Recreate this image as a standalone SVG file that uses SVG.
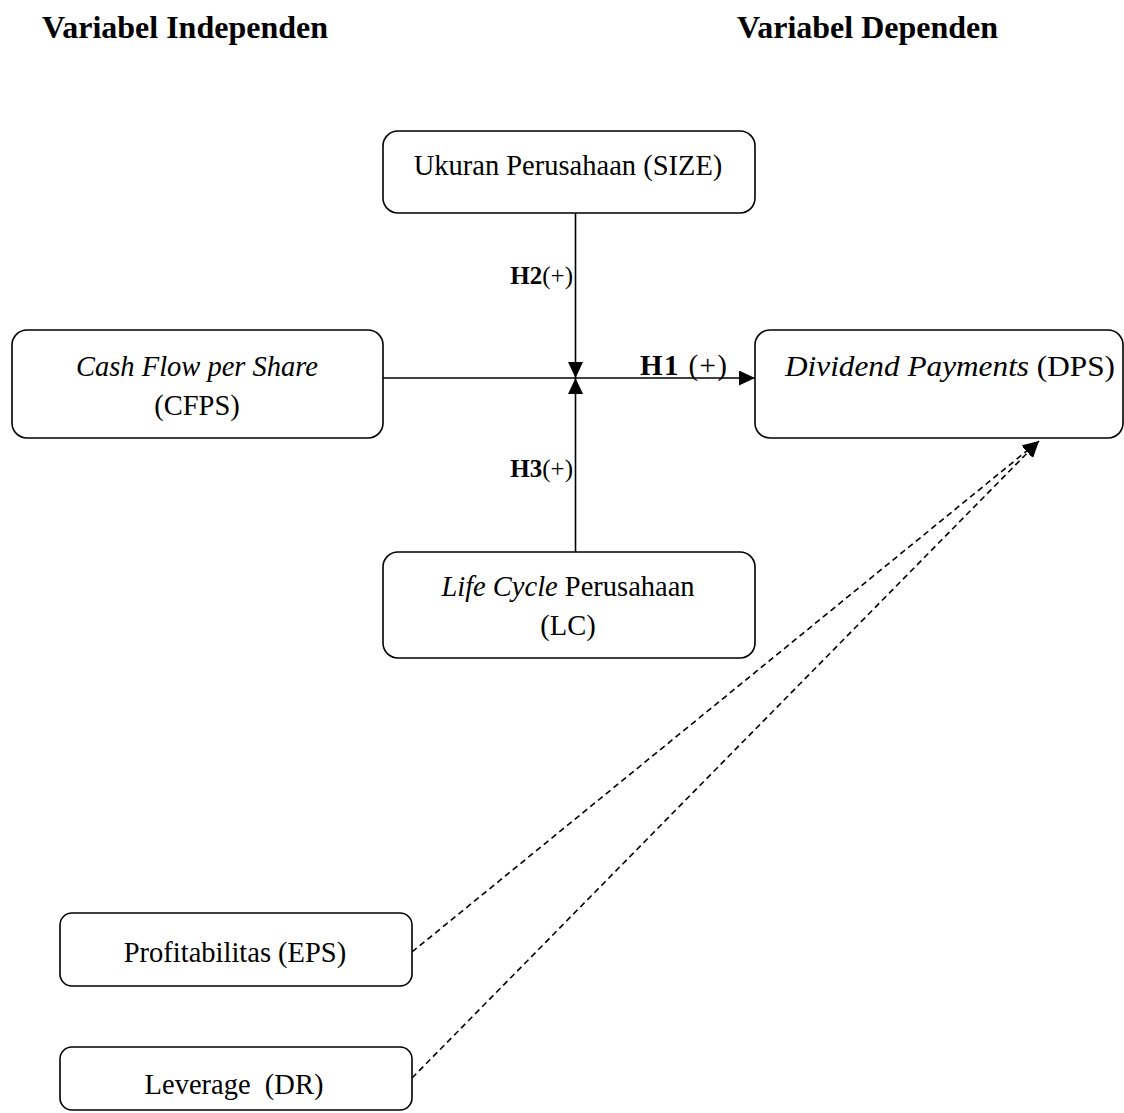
<svg xmlns="http://www.w3.org/2000/svg" width="1124" height="1113" viewBox="0 0 1124 1113">
  <style>
    .box { fill: #ffffff; stroke: #000000; stroke-width: 1.6; }
    .t { font-family: "Liberation Serif", "Times New Roman", serif; font-size: 28.5px; fill: #000000; }
    .h { font-family: "Liberation Serif", "Times New Roman", serif; font-size: 32px; font-weight: bold; fill: #000000; }
    .lbl { font-family: "Liberation Serif", "Times New Roman", serif; font-size: 29px; fill: #000000; }
    .lbl2 { font-family: "Liberation Serif", "Times New Roman", serif; font-size: 25px; fill: #000000; }
    .b { font-weight: bold; }
    .i { font-style: italic; }
    .line { stroke: #000000; stroke-width: 1.6; fill: none; }
    .dash { stroke: #000000; stroke-width: 1.6; fill: none; stroke-dasharray: 6 4; }
  </style>
  <defs>
    <marker id="arrow" markerUnits="userSpaceOnUse" markerWidth="18" markerHeight="16" refX="16" refY="7.5" orient="auto">
      <path d="M0,0 L16,7.5 L0,15 Z" fill="#000000"/>
    </marker>
  </defs>
  <rect width="1124" height="1113" fill="#ffffff"/>

  <g id="headings">
    <text class="h" x="42" y="38">Variabel Independen</text>
    <text class="h" x="737" y="38">Variabel Dependen</text>
  </g>

  <g id="connectors">
    <line class="line" x1="383" y1="378" x2="755" y2="378" marker-end="url(#arrow)"/>
    <line class="line" x1="575.5" y1="213" x2="575.5" y2="378" marker-end="url(#arrow)"/>
    <line class="line" x1="575.5" y1="552" x2="575.5" y2="378" marker-end="url(#arrow)"/>
    <line class="dash" x1="412" y1="952" x2="1039" y2="441" marker-end="url(#arrow)"/>
    <line class="dash" x1="412" y1="1078" x2="1039" y2="441" marker-end="url(#arrow)"/>
    <text class="lbl" x="640" y="375" textLength="87" lengthAdjust="spacing"><tspan class="b">H1</tspan> (+)</text>
    <text class="lbl2" x="573" y="284" text-anchor="end"><tspan class="b">H2</tspan>(+)</text>
    <text class="lbl2" x="573" y="477" text-anchor="end"><tspan class="b">H3</tspan>(+)</text>
  </g>

  <g id="node-size">
    <rect class="box" x="383" y="131" width="372" height="82" rx="15" ry="15"/>
    <text class="t" x="568" y="175" text-anchor="middle">Ukuran Perusahaan (SIZE)</text>
  </g>

  <g id="node-cfps">
    <rect class="box" x="12" y="330" width="371" height="108" rx="15" ry="15"/>
    <text class="t i" x="197" y="376" text-anchor="middle">Cash Flow per Share</text>
    <text class="t" x="197" y="415" text-anchor="middle">(CFPS)</text>
  </g>

  <g id="node-dps">
    <rect class="box" x="755" y="330" width="368" height="108" rx="15" ry="15"/>
    <text class="t" x="785" y="376" textLength="330" lengthAdjust="spacingAndGlyphs"><tspan class="i">Dividend Payments</tspan> (DPS)</text>
  </g>

  <g id="node-lc">
    <rect class="box" x="383" y="552" width="372" height="106" rx="15" ry="15"/>
    <text class="t" x="568" y="596" text-anchor="middle"><tspan class="i">Life Cycle</tspan> Perusahaan</text>
    <text class="t" x="568" y="635" text-anchor="middle">(LC)</text>
  </g>

  <g id="node-eps">
    <rect class="box" x="60" y="913" width="352" height="73" rx="12" ry="12"/>
    <text class="t" x="235" y="962" text-anchor="middle">Profitabilitas (EPS)</text>
  </g>

  <g id="node-dr">
    <rect class="box" x="60" y="1047" width="352" height="63" rx="12" ry="12"/>
    <text class="t" x="234" y="1094" text-anchor="middle" xml:space="preserve">Leverage  (DR)</text>
  </g>
</svg>
